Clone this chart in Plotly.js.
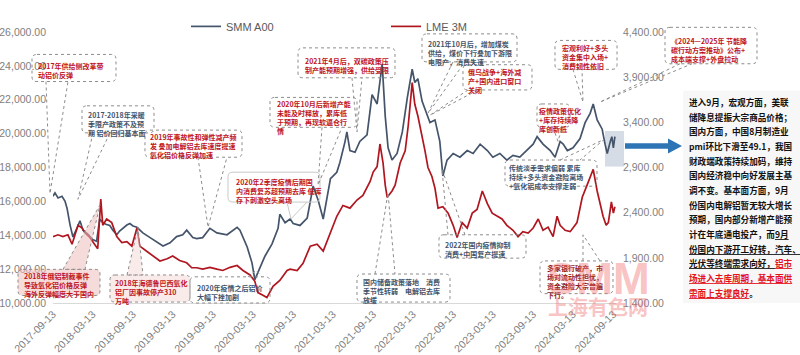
<!DOCTYPE html>
<html><head><meta charset="utf-8">
<script src="https://cdn.plot.ly/plotly-3.0.1.min.js"></script>
<style>html,body{margin:0;padding:0;background:#fff}#chart{width:800px;height:355px}</style>
</head><body><div id="chart"></div>
<script>
// ---------------- data ----------------
const seriesNames = ['SMM A00', 'LME 3M'];
const smmDates = ['2017-09-13','2017-09-22','2017-10-06','2017-10-24','2017-11-07','2017-11-16','2017-11-30','2017-12-13','2017-12-31','2018-01-14','2018-01-28','2018-02-20','2018-03-13','2018-03-31','2018-04-14','2018-04-28','2018-05-12','2018-05-30','2018-06-13','2018-07-01','2018-07-14','2018-07-28','2018-08-16','2018-08-30','2018-09-13','2018-10-01','2018-10-28','2018-11-30','2018-12-31','2019-01-28','2019-03-01','2019-03-31','2019-04-28','2019-05-16','2019-06-13','2019-07-01','2019-07-28','2019-08-30','2019-10-01','2019-11-16','2020-01-01','2020-01-14','2020-02-16','2020-03-09','2020-03-22','2020-04-05','2020-05-07','2020-06-08','2020-07-06','2020-07-14','2020-08-07','2020-08-30','2020-09-13','2020-10-14','2020-11-16','2020-12-13','2021-01-05','2021-01-28','2021-03-02','2021-03-31','2021-04-14','2021-05-07','2021-05-16','2021-05-30','2021-06-22','2021-07-14','2021-08-16','2021-09-08','2021-10-01','2021-10-24','2021-11-07','2021-11-20','2021-12-08','2021-12-31','2022-01-24','2022-02-16','2022-03-10','2022-03-22','2022-04-05','2022-04-24','2022-05-16','2022-05-30','2022-06-22','2022-07-14','2022-07-28','2022-08-16','2022-09-13','2022-10-14','2022-11-16','2022-12-13','2023-01-14','2023-02-16','2023-03-13','2023-04-14','2023-05-16','2023-06-13','2023-07-14','2023-08-16','2023-09-13','2023-10-01','2023-10-28','2023-11-30','2023-12-22','2024-01-14','2024-01-28','2024-02-16','2024-03-13','2024-04-14','2024-05-07','2024-05-30','2024-06-13','2024-07-01','2024-07-24','2024-08-06','2024-08-16','2024-08-30','2024-09-06','2024-09-13','2024-09-20'];
const smmValues = [16300,16500,16200,16300,16000,15600,14600,13900,14400,14850,14300,14050,13750,13650,14950,14750,14650,14580,14300,14030,14250,14400,14600,14690,14550,14470,14140,13860,13590,13370,13550,13920,14030,14300,13860,13800,13860,14410,14140,14030,14470,14300,13310,12370,11380,11820,12760,13480,14410,15240,14740,14960,14690,14580,15020,16900,16070,14960,17340,17720,18300,19500,20100,19000,18900,19540,19930,22300,21750,24120,21030,19160,18440,18830,20100,22140,23800,23020,23240,21920,21200,20650,20810,19540,17500,18440,18830,18610,19000,18830,19380,19000,18610,18830,18440,18720,18610,19000,19380,19820,19380,19000,18610,19540,19380,19000,19160,19710,20650,21200,21750,20810,20260,19380,18830,19540,19820,19160,19820];
const lmeDates = ['2017-09-13','2017-10-06','2017-10-28','2017-11-20','2017-12-09','2017-12-22','2018-01-05','2018-01-24','2018-02-07','2018-02-28','2018-03-22','2018-04-05','2018-04-19','2018-04-28','2018-05-16','2018-06-08','2018-07-01','2018-07-24','2018-08-16','2018-09-08','2018-10-01','2018-10-14','2018-11-16','2018-12-13','2019-01-14','2019-02-16','2019-03-13','2019-04-14','2019-05-16','2019-06-08','2019-07-01','2019-07-28','2019-08-30','2019-10-01','2019-10-28','2019-11-30','2020-01-01','2020-01-28','2020-02-29','2020-03-22','2020-04-05','2020-04-28','2020-05-16','2020-06-13','2020-07-14','2020-08-16','2020-08-30','2020-10-01','2020-10-28','2020-11-30','2020-12-31','2021-01-28','2021-03-02','2021-03-31','2021-04-28','2021-05-30','2021-07-01','2021-07-28','2021-08-30','2021-09-13','2021-10-01','2021-10-14','2021-10-28','2021-11-07','2021-11-16','2021-12-08','2021-12-22','2022-01-14','2022-02-06','2022-02-20','2022-03-10','2022-03-22','2022-04-05','2022-04-24','2022-05-07','2022-05-21','2022-06-08','2022-06-22','2022-07-06','2022-07-28','2022-08-21','2022-09-13','2022-10-01','2022-10-24','2022-11-16','2022-12-09','2022-12-31','2023-01-24','2023-02-16','2023-03-10','2023-03-31','2023-04-24','2023-05-16','2023-06-13','2023-07-06','2023-07-28','2023-08-21','2023-09-13','2023-10-06','2023-10-28','2023-11-20','2023-12-13','2023-12-31','2024-01-14','2024-02-06','2024-02-29','2024-03-31','2024-04-24','2024-05-16','2024-06-13','2024-07-01','2024-07-14','2024-07-28','2024-08-11','2024-08-21','2024-09-04','2024-09-13','2024-09-20'];
const lmeValues = [2135,2155,2135,2155,2050,2155,2260,2230,2175,2125,2050,2000,2550,2260,2330,2290,2135,2070,2080,2030,2230,2030,1970,1920,1865,1890,1920,1870,1845,1790,1790,1775,1795,1775,1760,1795,1815,1760,1710,1640,1515,1485,1460,1585,1650,1760,1775,1760,1840,2030,2050,1975,2180,2360,2480,2450,2540,2590,2745,2850,2910,3160,2950,2705,2570,2640,2705,2950,3085,3365,3840,3600,3470,3260,3090,2900,2800,2670,2450,2465,2395,2260,2125,2290,2230,2395,2435,2640,2500,2395,2360,2330,2260,2205,2135,2190,2175,2230,2330,2205,2240,2135,2360,2260,2205,2190,2290,2570,2705,2880,2640,2500,2360,2260,2290,2520,2395,2465];
const tickDates = ['2017-09-13','2018-03-13','2018-09-13','2019-03-13','2019-09-13','2020-03-13','2020-09-13','2021-03-13','2021-09-13','2022-03-13','2022-09-13','2023-03-13','2023-09-13','2024-03-13','2024-09-13'];

// ---------------- layout helpers (pixel -> paper) ----------------
const PL = 53, PT = 13, PW = 563, PH = 290;
const X = v => (v - PL) / PW;
const Y = v => (PT + PH - v) / PH;
const P = (x, y) => X(x).toFixed(5) + ',' + Y(y).toFixed(5);
function rr(x0, y0, x1, y1, r) {
  return 'M' + P(x0 + r, y0) + ' L' + P(x1 - r, y0) + ' Q' + P(x1, y0) + ' ' + P(x1, y0 + r) +
    ' L' + P(x1, y1 - r) + ' Q' + P(x1, y1) + ' ' + P(x1 - r, y1) +
    ' L' + P(x0 + r, y1) + ' Q' + P(x0, y1) + ' ' + P(x0, y1 - r) +
    ' L' + P(x0, y0 + r) + ' Q' + P(x0, y0) + ' ' + P(x0 + r, y0) + ' Z';
}
const RED = '#c0141c', BLUE = '#44546a', DRED = '#8e1a1a';
const FONT = '"Noto Sans CJK SC", "Liberation Sans", sans-serif';
const NARROW = '"Liberation Sans Narrow", "Liberation Sans", Arial, sans-serif';

const callouts = [
  {b:[32,37,116,66], tail:[[46,66],[50,186],[68,66]], t:[37,43], c:RED, text:'2017年供给侧改革带<br>动铝价反弹'},
  {b:[82,92,154,121], tail:[[93,121],[78,192],[110,121]], t:[87,95], c:BLUE, text:'2017-2018年采暖<br>季限产政策不及预<br>期 铝价回归基本面'},
  {b:[145,118,242,147], tail:[[198,147],[208,222],[227,147]], t:[149,119], c:RED, text:'2019年事故性和弹性减产频<br>发 叠加电解铝去库速度提速<br>氧化铝价格反弹加速'},
  {b:[228,163,320,195], tail:[[287,195],[291,213],[307,195]], t:[235,167], c:RED, solid:true, text:'2020年2季度疫情后期国<br>内消费复苏超预期去库 低库<br>存下刺激空头离场'},
  {b:[270,83,357,115], tail:[[322,115],[318,177],[342,115]], t:[276,84], c:RED, text:'2020年10月后新增产能<br>未能及时释放，累库低<br>于预期，再现软逼仓行<br>情'},
  {b:[298,30,395,62], tail:[[352,62],[357,120],[362,62]], t:[304,38], c:RED, text:'2021年4月后，双碳政策压<br>制产能预期增强，供给受限'},
  {b:[422,15,517,45], tail:[[453,45],[428,100],[465,45]], t:[427,19], c:BLUE, text:'2021年10月后，增加煤炭<br>供给，煤价下行叠加下游限<br>电限产，消费失速'},
  {b:[463,48,532,75], tail:[[468,75],[430,102],[478,75]], t:[467,49], c:RED, text:'俄乌战争+海外减<br>产+国内进口窗口<br>关闭'},
  {b:[555,22,617,53], tail:[[573,53],[583,88],[582,53]], t:[561,24], c:RED, text:'宏观利好+多头<br>资金集中入场+<br>消费韧性依旧'},
  {b:[665,8,757,47], tail:[[680,47],[600,88],[692,47]], t:[670,16], c:RED, text:'《2024—2025年 节能降<br>碳行动方案推动》公布+<br>成本端支撑+外盘拉动'},
  {b:[537,90,570,115], tail:[[553,115],[558,130],[562,115]], t:[538,91], c:RED, text:'疫情政策优化<br>+库存持续降<br>库创新低'},
  {b:[505,150,597,178], tail:[[560,150],[604,128],[580,150]], t:[508,152], c:BLUE, text:'传统淡季需求偏弱 累库<br>持续+多头资金避险离场<br>+氧化铝成本支撑走弱'},
  {b:[439,230,526,255], tail:[[448,230],[442,160],[465,230]], t:[444,234], c:BLUE, text:'2022年国内疫情抑制<br>消费+中国复产提速'},
  {b:[357,272,450,302], tail:[[375,272],[388,185],[395,272]], t:[362,274], c:BLUE, text:'国内储备政策落地　消费<br>季节性转弱　电解铝去库<br>放缓'},
  {b:[540,258,613,293], tail:[[583,258],[583,230],[600,258]], t:[546,259], c:DRED, text:'多家银行破产，市<br>场对流动性担忧，<br>资金避险大宗普遍<br>下行。'},
  {b:[18,267,100,295], tail:[[63,267],[100,198],[85,267]], t:[23,268], c:RED, fill:'rgba(238,190,190,0.55)', text:'2018年俄铝制裁事件<br>导致氧化铝价格反弹<br>海外反弹幅度大于国内'},
  {b:[110,273,190,302], tail:[[127,273],[138,222],[143,273]], t:[114,275], c:RED, fill:'rgba(245,215,215,0.5)', text:'2018年海德鲁巴西氧化<br>铝厂因事故停产310<br>万吨'},
  {b:[190,275,270,303], tail:[[248,275],[256,268],[262,275]], t:[196,281], c:BLUE, text:'2020年疫情之后铝价<br>大幅下挫加剧'}
];

const shapes = [];
const annotations = [];
// highlight box + arrow
shapes.push({type:'rect', xref:'paper', yref:'paper', x0:X(605), x1:X(624), y0:Y(157), y1:Y(119), fillcolor:'#d6dce5', line:{width:0}, layer:'below'});
shapes.push({type:'path', xref:'paper', yref:'paper', path:'M'+P(625,132)+' L'+P(668,132)+' L'+P(668,127)+' L'+P(682,135)+' L'+P(668,143)+' L'+P(668,138)+' L'+P(625,138)+' Z', fillcolor:'#2e75b6', line:{width:0}});
// right text panel
shapes.push({type:'rect', xref:'paper', yref:'paper', x0:X(683), x1:X(800), y0:Y(303), y1:Y(76), fillcolor:'#f7f7f7', line:{width:0}, layer:'below'});

callouts.forEach(cd => {
  const [x0,y0,x1,y1] = cd.b;
  const line = cd.solid ? {color:'#c9c9c9', width:1} : {color:'#8c8c8c', width:1, dash:'dot'};
  shapes.push({type:'path', xref:'paper', yref:'paper', path: rr(x0,y0,x1,y1,5), fillcolor: cd.fill || 'rgba(255,255,255,0)', line: line, layer:'above'});
  const [a,t,b] = cd.tail;
  if (cd.fill) {
    shapes.push({type:'path', xref:'paper', yref:'paper', path:'M'+P(a[0],a[1])+' L'+P(t[0],t[1])+' L'+P(b[0],b[1])+' Z', fillcolor: cd.fill, line:{color:'#8c8c8c', width:1, dash:'dot'}, layer:'above'});
  } else {
    shapes.push({type:'path', xref:'paper', yref:'paper', path:'M'+P(a[0],a[1])+' L'+P(t[0],t[1])+' L'+P(b[0],b[1]), line: line, layer:'above'});
  }
  annotations.push({xref:'paper', yref:'paper', x:X(cd.t[0]), y:Y(cd.t[1]), xanchor:'left', yanchor:'top', align:'left', showarrow:false,
    text:'<b>'+cd.text+'</b>', font:{family:FONT, size:7, color:cd.c}, borderpad:0});
});

const panelLines = [
  '进入9月，宏观方面，美联',
  '储降息提振大宗商品价格；',
  '国内方面，中国8月制造业',
  'pmi环比下滑至49.1，我国',
  '财政端政策持续加码，维持',
  '国内经济稳中向好发展主基',
  '调不变。基本面方面，9月',
  '份国内电解铝暂无较大增长',
  '预期，国内部分新增产能预',
  '计在年底通电投产，而<u>9月</u>',
  '<u>份国内下游开工好转，汽车、</u>',
  '<u>光伏等终端需求向好，</u><span style="color:#e3121b"><u>铝市</u></span>',
  '<span style="color:#e3121b"><u>场进入去库周期，基本面供</u></span>',
  '<span style="color:#e3121b"><u>需面上支撑良好</u></span>。'
];
panelLines.forEach((s, i) => {
  annotations.push({xref:'paper', yref:'paper', x:X(687), y:Y(88 + i*15.7), xanchor:'left', yanchor:'middle', showarrow:false,
    text:'<b>'+s+'</b>', font:{family:FONT, size:8.6, color:'#111111'}});
});
// watermark
annotations.push({xref:'paper', yref:'paper', x:X(598), y:Y(277), xanchor:'center', yanchor:'middle', showarrow:false,
  text:'<b>SMM</b>', font:{family:'"Liberation Sans", Arial, sans-serif', size:44, color:'rgba(240,110,110,0.42)'}});
annotations.push({xref:'paper', yref:'paper', x:X(598), y:Y(307), xanchor:'center', yanchor:'middle', showarrow:false,
  text:'<b>上海有色网</b>', font:{family:FONT, size:20, color:'rgba(240,110,110,0.42)'}});

const traces = [
  {type:'scatter', mode:'lines', name:seriesNames[0], x:smmDates, y:smmValues, yaxis:'y', line:{color:'#44546a', width:1.7}},
  {type:'scatter', mode:'lines', name:seriesNames[1], x:lmeDates, y:lmeValues, yaxis:'y2', line:{color:'#b0161f', width:1.7}}
];

const layout = {
  width:800, height:355,
  margin:{l:PL, r:800-PL-PW, t:PT, b:355-PT-PH},
  paper_bgcolor:'#ffffff', plot_bgcolor:'rgba(0,0,0,0)',
  font:{family:FONT, color:'#7f7f7f'},
  showlegend:true,
  legend:{orientation:'h', x:X(186), y:Y(7), xanchor:'left', yanchor:'middle', font:{family:NARROW, size:11, color:'#595959'}, bgcolor:'rgba(0,0,0,0)', entrywidth:155, itemwidth:30},
  xaxis:{type:'date', range:['2017-09-13','2024-09-25'], tickvals:tickDates, tickformat:'%Y-%m-%d', tickangle:-45,
    tickfont:{family:NARROW, size:10.5, color:'#808080'}, showgrid:false, zeroline:false, showline:true, linecolor:'#d9d9d9', linewidth:1, ticks:''},
  yaxis:{range:[10000,26000], tick0:10000, dtick:2000, tickformat:',.2f', showgrid:false, zeroline:false, showline:false,
    tickfont:{family:NARROW, size:10.5, color:'#808080'}, ticklabelstandoff:6},
  yaxis2:{range:[1400,4400], tick0:1400, dtick:500, tickformat:',.2f', overlaying:'y', side:'right', showgrid:false, zeroline:false, showline:false,
    tickfont:{family:NARROW, size:10.5, color:'#808080'}, ticklabelstandoff:6},
  shapes:shapes, annotations:annotations
};
Plotly.newPlot('chart', traces, layout, {displayModeBar:false, staticPlot:true});
</script>
</body></html>
